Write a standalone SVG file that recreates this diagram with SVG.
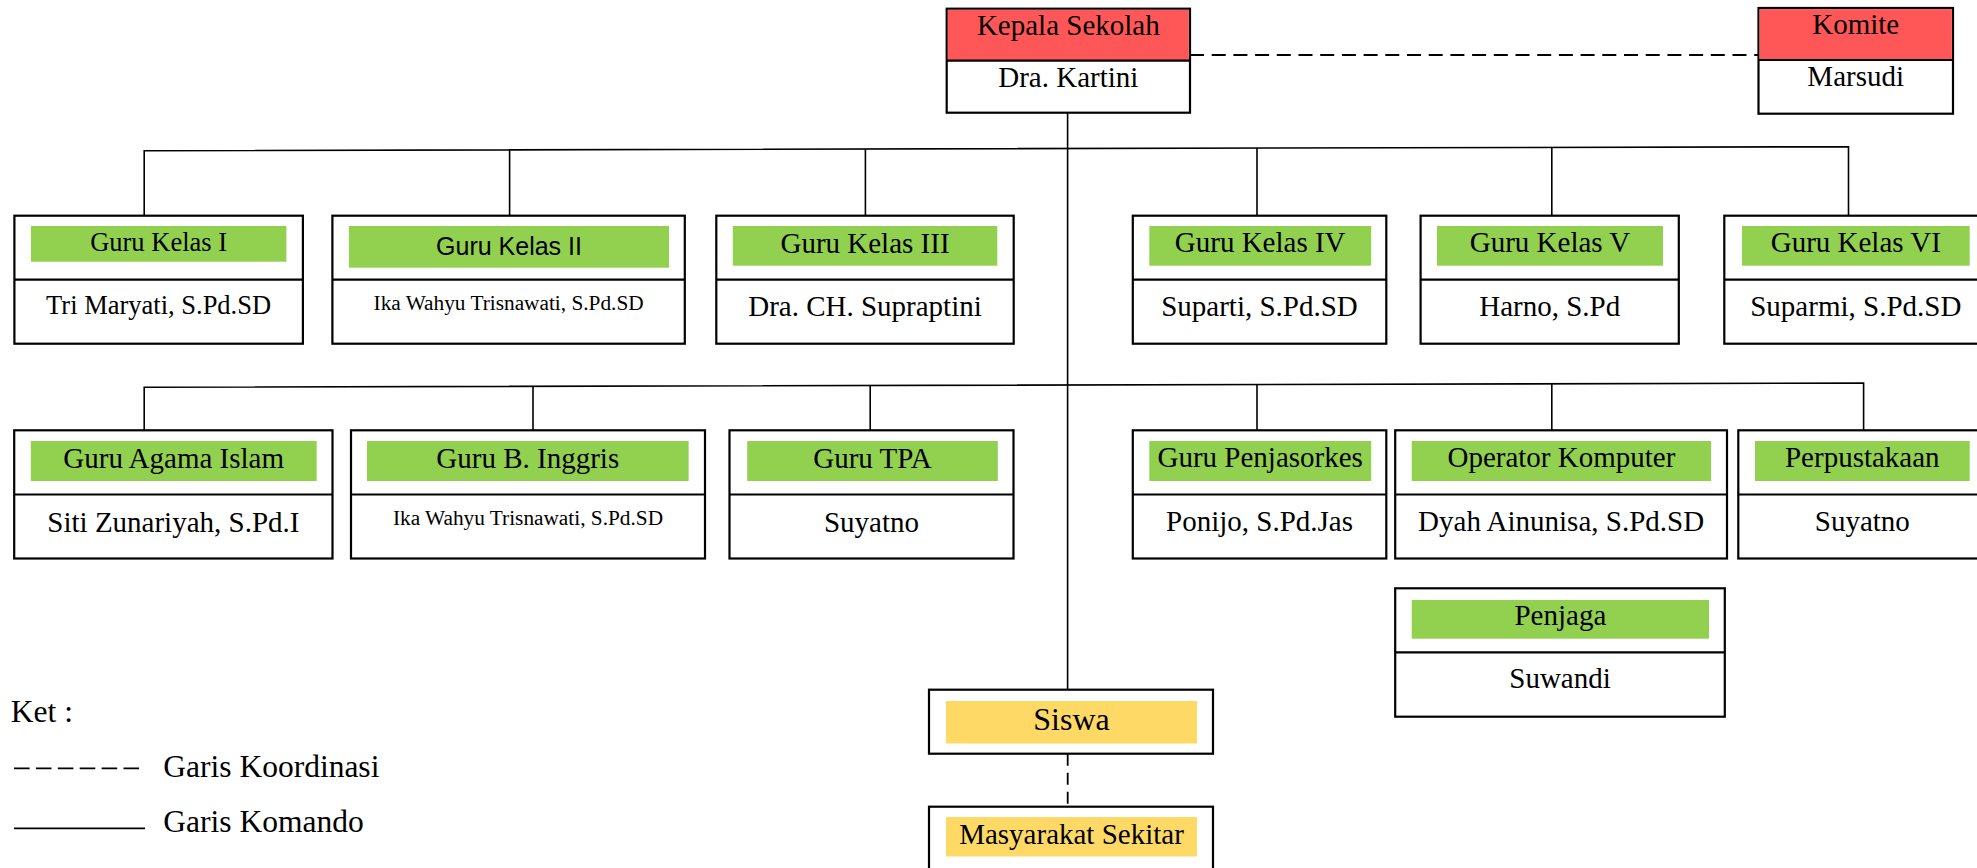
<svg xmlns="http://www.w3.org/2000/svg" width="1977" height="868" viewBox="0 0 1977 868">
<style>
.bg{fill:#ffffff}
.box{fill:#ffffff;stroke:#000;stroke-width:2.2}
.div{stroke:#000;stroke-width:2.2}
.red{fill:#FF5757}
.grn{fill:#92D050}
.yel{fill:#FFD966}
.t{font-family:"Liberation Serif","Times New Roman",serif;font-size:29px;fill:#000;text-anchor:middle}
.s{font-size:26.5px}
.xs{font-size:21.3px}
.l{font-size:32px}
.sans{font-family:"Liberation Sans",Arial,sans-serif;font-size:25px}
.leg{font-family:"Liberation Serif","Times New Roman",serif;font-size:31.5px;fill:#000}
.con{fill:none;stroke:#000;stroke-width:1.6}
.dash{fill:none;stroke:#000;stroke-width:2;stroke-dasharray:14 7.7}
.dashv{fill:none;stroke:#000;stroke-width:1.8;stroke-dasharray:12 7}
</style>
<rect class="bg" x="0" y="0" width="1977" height="868"/>

<g id="connectors">
  <path class="dash" d="M1190,55 H1758.5"/>
  <path class="con" d="M1067.6,112.7 V689.7"/>
  <path class="con" d="M144.2,215.7 V150.7 L1848.5,146.7 V215.7"/>
  <path class="con" d="M509.6,149.8 V215.7 M865.4,149 V215.7 M1257,148.1 V215.7 M1551.8,147.4 V215.7"/>
  <path class="con" d="M144.2,430.3 V387.3 L1863.6,383 V430.3"/>
  <path class="con" d="M533,386.3 V430.3 M870.2,385.5 V430.3 M1257,384.5 V430.3 M1551.8,383.8 V430.3"/>
  <path class="dashv" d="M1067.7,753.7 V806.7"/>
</g>

<g id="kepala-sekolah">
  <rect class="box" x="946.7" y="8.7" width="243.3" height="104"/>
  <rect class="red" x="947.8" y="9.8" width="241.1" height="50.9"/>
  <line class="div" x1="946.7" y1="60.7" x2="1190" y2="60.7"/>
  <text class="t" x="1068.3" y="35">Kepala Sekolah</text>
  <text class="t" x="1068.3" y="87.3">Dra. Kartini</text>
</g>

<g id="komite">
  <rect class="box" x="1758.5" y="8" width="194.5" height="105.7"/>
  <rect class="red" x="1759.6" y="9.1" width="192.3" height="50.9"/>
  <line class="div" x1="1758.5" y1="60" x2="1953" y2="60"/>
  <text class="t" x="1855.7" y="34">Komite</text>
  <text class="t" x="1855.7" y="86">Marsudi</text>
</g>

<g id="guru-kelas-1">
  <rect class="box" x="14.4" y="215.7" width="288.5" height="128"/>
  <line class="div" x1="14.4" y1="279.7" x2="302.9" y2="279.7"/>
  <rect class="grn" x="30.9" y="226" width="255.5" height="35.7"/>
  <text class="t s" x="158.6" y="250.7">Guru Kelas I</text>
  <text class="t s" x="158.6" y="314.3">Tri Maryati, S.Pd.SD</text>
</g>

<g id="guru-kelas-2">
  <rect class="box" x="332.4" y="215.7" width="352.4" height="128"/>
  <line class="div" x1="332.4" y1="279.7" x2="684.8" y2="279.7"/>
  <rect class="grn" x="348.9" y="226" width="320.1" height="41.7"/>
  <text class="t sans" x="509" y="255">Guru Kelas II</text>
  <text class="t xs" x="508.6" y="310">Ika Wahyu Trisnawati, S.Pd.SD</text>
</g>

<g id="guru-kelas-3">
  <rect class="box" x="716.3" y="215.7" width="297.4" height="128"/>
  <line class="div" x1="716.3" y1="279.7" x2="1013.7" y2="279.7"/>
  <rect class="grn" x="732.8" y="226" width="264.5" height="39.7"/>
  <text class="t" x="865" y="253.3">Guru Kelas III</text>
  <text class="t" x="865" y="315.7">Dra. CH. Supraptini</text>
</g>

<g id="guru-kelas-4">
  <rect class="box" x="1132.8" y="215.7" width="253.5" height="128"/>
  <line class="div" x1="1132.8" y1="279.7" x2="1386.3" y2="279.7"/>
  <rect class="grn" x="1149.3" y="226" width="221.9" height="39.7"/>
  <text class="t" x="1260.2" y="252.3">Guru Kelas IV</text>
  <text class="t" x="1259.5" y="316">Suparti, S.Pd.SD</text>
</g>

<g id="guru-kelas-5">
  <rect class="box" x="1420.6" y="215.7" width="258.2" height="128"/>
  <line class="div" x1="1420.6" y1="279.7" x2="1678.8" y2="279.7"/>
  <rect class="grn" x="1437" y="226" width="226" height="39.7"/>
  <text class="t" x="1550" y="252.3">Guru Kelas V</text>
  <text class="t" x="1549.7" y="316">Harno, S.Pd</text>
</g>

<g id="guru-kelas-6">
  <rect class="box" x="1724.3" y="215.7" width="270" height="128"/>
  <line class="div" x1="1724.3" y1="279.7" x2="1990" y2="279.7"/>
  <rect class="grn" x="1742" y="226" width="227.7" height="39.7"/>
  <text class="t" x="1855.8" y="252.3">Guru Kelas VI</text>
  <text class="t" x="1855.8" y="316">Suparmi, S.Pd.SD</text>
</g>

<g id="guru-agama-islam">
  <rect class="box" x="14.2" y="430.3" width="318.3" height="128.2"/>
  <line class="div" x1="14.2" y1="494.5" x2="332.5" y2="494.5"/>
  <rect class="grn" x="30.8" y="441" width="285.9" height="40"/>
  <text class="t" x="173.7" y="468.3">Guru Agama Islam</text>
  <text class="t" x="173.4" y="531.7">Siti Zunariyah, S.Pd.I</text>
</g>

<g id="guru-b-inggris">
  <rect class="box" x="351" y="430.3" width="354" height="128.2"/>
  <line class="div" x1="351" y1="494.5" x2="705" y2="494.5"/>
  <rect class="grn" x="367" y="441" width="321.6" height="40"/>
  <text class="t" x="527.8" y="468.3">Guru B. Inggris</text>
  <text class="t xs" x="528" y="525">Ika Wahyu Trisnawati, S.Pd.SD</text>
</g>

<g id="guru-tpa">
  <rect class="box" x="729.5" y="430.3" width="284" height="128.2"/>
  <line class="div" x1="729.5" y1="494.5" x2="1013.5" y2="494.5"/>
  <rect class="grn" x="747.2" y="441" width="250.6" height="40"/>
  <text class="t" x="872.5" y="468.3">Guru TPA</text>
  <text class="t" x="871.5" y="531.7">Suyatno</text>
</g>

<g id="guru-penjasorkes">
  <rect class="box" x="1132.8" y="430.3" width="253.5" height="128.2"/>
  <line class="div" x1="1132.8" y1="494.5" x2="1386.3" y2="494.5"/>
  <rect class="grn" x="1149.3" y="441" width="221.9" height="40"/>
  <text class="t" x="1260.2" y="467.3">Guru Penjasorkes</text>
  <text class="t" x="1259.5" y="530.7">Ponijo, S.Pd.Jas</text>
</g>

<g id="operator-komputer">
  <rect class="box" x="1395.2" y="430.3" width="331.8" height="128.2"/>
  <line class="div" x1="1395.2" y1="494.5" x2="1727" y2="494.5"/>
  <rect class="grn" x="1411.7" y="441" width="299.4" height="40"/>
  <text class="t" x="1561.4" y="467.3">Operator Komputer</text>
  <text class="t" x="1561.1" y="530.7">Dyah Ainunisa, S.Pd.SD</text>
</g>

<g id="perpustakaan">
  <rect class="box" x="1738.3" y="430.3" width="260" height="128.2"/>
  <line class="div" x1="1738.3" y1="494.5" x2="1990" y2="494.5"/>
  <rect class="grn" x="1755" y="441" width="214.7" height="40"/>
  <text class="t" x="1862.3" y="467.3">Perpustakaan</text>
  <text class="t" x="1862.3" y="530.7">Suyatno</text>
</g>

<g id="penjaga">
  <rect class="box" x="1395.2" y="588.3" width="329.6" height="128.4"/>
  <line class="div" x1="1395.2" y1="652.3" x2="1724.8" y2="652.3"/>
  <rect class="grn" x="1411.7" y="600" width="297.3" height="38.7"/>
  <text class="t" x="1560.4" y="625">Penjaga</text>
  <text class="t" x="1560" y="688.3">Suwandi</text>
</g>

<g id="siswa">
  <rect class="box" x="929" y="689.7" width="284" height="64"/>
  <rect class="yel" x="946" y="701" width="251" height="42.5"/>
  <text class="t l" x="1071.5" y="730">Siswa</text>
</g>

<g id="masyarakat-sekitar">
  <rect class="box" x="929" y="806.7" width="284" height="80"/>
  <rect class="yel" x="946" y="817" width="251" height="39.5"/>
  <text class="t" x="1071.5" y="844">Masyarakat Sekitar</text>
</g>

<g id="legend">
  <text class="leg" x="10.8" y="721.7">Ket :</text>
  <line x1="14" y1="768.3" x2="139" y2="768.3" stroke="#000" stroke-width="1.8" stroke-dasharray="15.6 6.3"/>
  <text class="leg" x="163.3" y="777.3">Garis Koordinasi</text>
  <line x1="14" y1="828.3" x2="145" y2="828.3" stroke="#000" stroke-width="1.8"/>
  <text class="leg" x="163.3" y="832.3">Garis Komando</text>
</g>
</svg>
